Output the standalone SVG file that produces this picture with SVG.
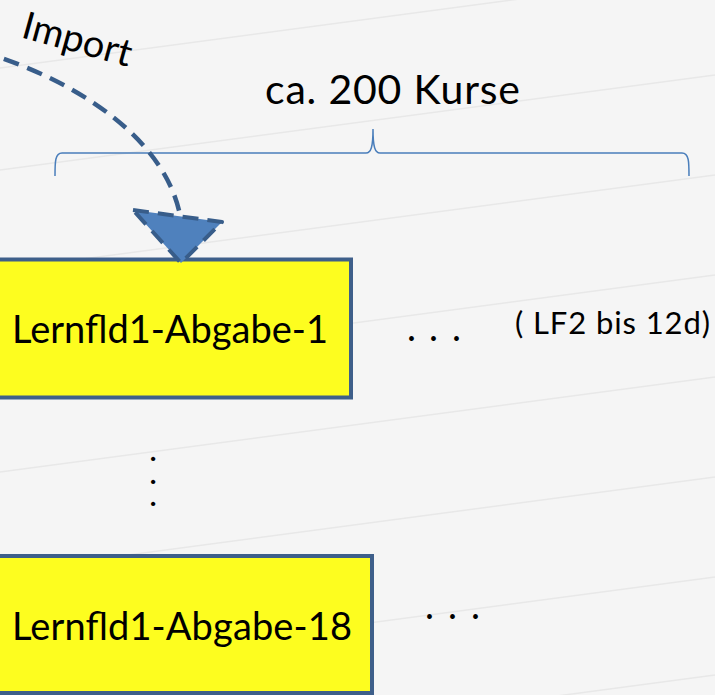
<svg xmlns="http://www.w3.org/2000/svg" width="715" height="695" viewBox="0 0 715 695">
  <style>
    .bg { fill: #f5f5f5; }
    .rule { stroke: #e8e8e8; stroke-width: 1.5; fill: none; }
    .box { fill: #fdfd1f; stroke: #3e5f8a; stroke-width: 4; }
    .lbl { font-family: Lato, "Open Sans", "Liberation Sans", sans-serif; fill: #000; }
    .vdot { stroke: #000; stroke-width: 2; }
    .brace { fill: none; stroke: #4a7ebb; stroke-width: 1.5; }
    .imp { fill: none; stroke: #385d8a; stroke-width: 4.5; stroke-dasharray: 16 9; }
    .head { fill: #4f81bd; stroke: #385d8a; stroke-width: 4; stroke-dasharray: 16 9; stroke-linejoin: round; }
  </style>
  <rect class="bg" x="0" y="0" width="715" height="695"/>
  <g id="background-rules">
    <line class="rule" x1="0" y1="68" x2="715" y2="-27"/>
    <line class="rule" x1="0" y1="170" x2="715" y2="75"/>
    <line class="rule" x1="0" y1="270" x2="715" y2="175"/>
    <line class="rule" x1="0" y1="370" x2="715" y2="275"/>
    <line class="rule" x1="0" y1="472" x2="715" y2="377"/>
    <line class="rule" x1="0" y1="572" x2="715" y2="477"/>
    <line class="rule" x1="0" y1="672" x2="715" y2="577"/>
    <line class="rule" x1="0" y1="770" x2="715" y2="675"/>
  </g>
  <g id="brace">
    <path class="brace" d="M55,176 C55,162 55,153 62,153 L366,153 C371,153 373,147 373,129 C373,147 375,153 380,153 L682,153 C689,153 689,162 689,176"/>
    <text class="lbl" x="265" y="104" font-size="41" textLength="255">ca. 200 Kurse</text>
  </g>
  <g id="box1">
    <rect class="box" x="-10" y="259.5" width="361" height="138"/>
    <text class="lbl" x="12" y="343" font-size="38" textLength="316">Lernfld1-Abgabe-1</text>
  </g>
  <g id="box1-more">
    <text class="lbl" x="407 429 452" y="341" font-size="38">...</text>
    <text class="lbl" x="515" y="334" font-size="31" textLength="195">( LF2 bis 12d)</text>
  </g>
  <g id="vertical-ellipsis">
    <text class="lbl vdot" font-size="18"><tspan x="151" y="459.5">.</tspan><tspan x="151" y="482.5">.</tspan><tspan x="151" y="504.5">.</tspan></text>
  </g>
  <g id="box2">
    <rect class="box" x="-10" y="556" width="382" height="137"/>
    <text class="lbl" x="12" y="640" font-size="38" textLength="340">Lernfld1-Abgabe-18</text>
  </g>
  <g id="box2-more">
    <text class="lbl" x="425 448 471" y="619" font-size="38">...</text>
  </g>
  <g id="connectors">
    <path class="imp" d="M-20,51 C80,81 165,140 180,215"/>
    <polygon class="head" points="133,210 222,222 181,263"/>
    <text class="lbl" font-size="38" transform="translate(20,37) rotate(15.5)">Import</text>
  </g>
</svg>
